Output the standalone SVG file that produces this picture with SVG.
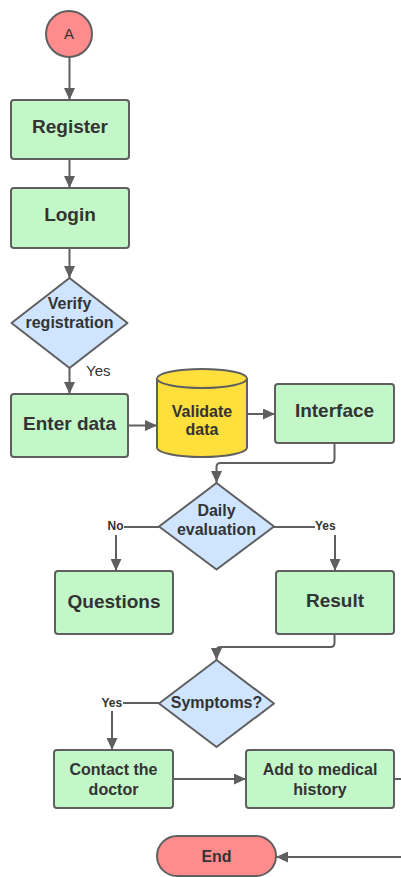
<svg xmlns="http://www.w3.org/2000/svg" width="401" height="877" viewBox="0 0 401 877">
  <defs>
    <marker id="arrow" markerUnits="userSpaceOnUse" markerWidth="12" markerHeight="11" refX="12" refY="5.5" orient="auto">
      <path d="M0,0 L12,5.5 L0,11 Z" fill="#5f5f5f"/>
    </marker>
    <style>
      .proc { fill: #c3f7c8; stroke: #5f5f5f; stroke-width: 2; }
      .dec { fill: #cfe4ff; stroke: #5f5f5f; stroke-width: 2; stroke-linejoin: round; }
      .term { fill: #ff8c8c; stroke: #5f5f5f; stroke-width: 2; }
      .store { fill: #ffdf3c; stroke: #5f5f5f; stroke-width: 2; }
      .lbl { font-family: "Liberation Sans", Arial, sans-serif; font-weight: bold; fill: #333333; text-anchor: middle; }
      .big { font-size: 19px; }
      .mid { font-size: 16px; }
      .edge { fill: none; stroke: #5f5f5f; stroke-width: 2; }
      .elbl { font-family: "Liberation Sans", Arial, sans-serif; fill: #333333; }
    </style>
  </defs>
  <rect width="401" height="877" fill="#ffffff"/>

  <!-- connectors -->
  <g id="connectors">
    <line class="edge" x1="69.5" y1="57" x2="69.5" y2="100" marker-end="url(#arrow)"/>
    <line class="edge" x1="69.5" y1="159" x2="69.5" y2="188" marker-end="url(#arrow)"/>
    <line class="edge" x1="69.5" y1="248" x2="69.5" y2="278" marker-end="url(#arrow)"/>
    <line class="edge" x1="69.5" y1="368" x2="69.5" y2="394" marker-end="url(#arrow)"/>
    <text class="elbl" x="86" y="376" font-size="15">Yes</text>
    <line class="edge" x1="128" y1="425.5" x2="157" y2="425.5" marker-end="url(#arrow)"/>
    <line class="edge" x1="247" y1="414" x2="275" y2="414" marker-end="url(#arrow)"/>
    <path class="edge" d="M334.5,443 V459 Q334.5,463 330.5,463 H220.5 Q216.5,463 216.5,467 V483" marker-end="url(#arrow)"/>
    <!-- Daily evaluation: No branch -->
    <line class="edge" x1="159" y1="527" x2="124" y2="527"/>
    <text class="elbl" x="107.5" y="530" font-size="12" font-weight="bold">No</text>
    <line class="edge" x1="116" y1="535" x2="116" y2="571" marker-end="url(#arrow)"/>
    <!-- Daily evaluation: Yes branch -->
    <line class="edge" x1="274" y1="527" x2="315" y2="527"/>
    <text class="elbl" x="315" y="530" font-size="12" font-weight="bold">Yes</text>
    <line class="edge" x1="335" y1="535" x2="335" y2="571" marker-end="url(#arrow)"/>
    <path class="edge" d="M334.5,634 V643 Q334.5,647 330.5,647 H220.5 Q216.5,647 216.5,651 V660" marker-end="url(#arrow)"/>
    <!-- Symptoms: Yes branch -->
    <line class="edge" x1="159" y1="703" x2="123" y2="703"/>
    <text class="elbl" x="101.5" y="707" font-size="12" font-weight="bold">Yes</text>
    <line class="edge" x1="112" y1="711" x2="112" y2="750" marker-end="url(#arrow)"/>
    <line class="edge" x1="173" y1="779" x2="246" y2="779" marker-end="url(#arrow)"/>
    <line class="edge" x1="394" y1="779" x2="401" y2="779"/>
    <line class="edge" x1="401" y1="857" x2="276" y2="857" marker-end="url(#arrow)"/>
  </g>

  <g id="start">
    <circle class="term" cx="69" cy="34" r="23"/>
    <text class="elbl" x="69" y="39" font-size="15" text-anchor="middle">A</text>
  </g>

  <g id="register">
    <rect class="proc" x="11" y="100" width="118" height="59" rx="3"/>
    <text class="lbl big" x="70" y="133">Register</text>
  </g>

  <g id="login">
    <rect class="proc" x="11" y="188" width="118" height="60" rx="3"/>
    <text class="lbl big" x="70" y="221">Login</text>
  </g>

  <g id="verify">
    <polygon class="dec" points="69.5,278 127.5,323 69.5,368 11.5,323"/>
    <text class="lbl mid" x="69.5" y="309">Verify</text>
    <text class="lbl mid" x="69.5" y="328">registration</text>
  </g>

  <g id="enter-data">
    <rect class="proc" x="11" y="394" width="117" height="63" rx="3"/>
    <text class="lbl big" x="69.5" y="430">Enter data</text>
  </g>

  <g id="validate-data">
    <path class="store" d="M157,378.5 A45,9.5 0 0 1 247,378.5 V447.5 A45,9.5 0 0 1 157,447.5 Z"/>
    <path class="store" fill="none" d="M157,378.5 A45,9.5 0 0 0 247,378.5"/>
    <text class="lbl mid" x="202" y="416.5">Validate</text>
    <text class="lbl mid" x="202" y="435">data</text>
  </g>

  <g id="interface">
    <rect class="proc" x="275" y="384" width="119" height="59" rx="3"/>
    <text class="lbl big" x="334.5" y="417">Interface</text>
  </g>

  <g id="daily-evaluation">
    <polygon class="dec" points="216.5,483 274,526.5 216.5,569.5 159,526.5"/>
    <text class="lbl mid" x="216.5" y="516">Daily</text>
    <text class="lbl mid" x="216.5" y="534.5">evaluation</text>
  </g>

  <g id="questions">
    <rect class="proc" x="55" y="571" width="118" height="63" rx="3"/>
    <text class="lbl big" x="114" y="607.5">Questions</text>
  </g>

  <g id="result">
    <rect class="proc" x="276" y="571" width="118" height="63" rx="3"/>
    <text class="lbl big" x="335" y="607">Result</text>
  </g>

  <g id="symptoms">
    <polygon class="dec" points="216.5,660 274,703.5 216.5,747 159,703.5"/>
    <text class="lbl mid" x="216.5" y="708">Symptoms?</text>
  </g>

  <g id="contact-doctor">
    <rect class="proc" x="54" y="750" width="119" height="58" rx="3"/>
    <text class="lbl mid" x="113.5" y="775">Contact the</text>
    <text class="lbl mid" x="113.5" y="795">doctor</text>
  </g>

  <g id="medical-history">
    <rect class="proc" x="246" y="750" width="148" height="58" rx="3"/>
    <text class="lbl mid" x="320" y="775">Add to medical</text>
    <text class="lbl mid" x="320" y="795">history</text>
  </g>

  <g id="end">
    <rect class="term" x="157" y="836" width="119" height="40" rx="20"/>
    <text class="lbl mid" x="216.5" y="862">End</text>
  </g>
</svg>
